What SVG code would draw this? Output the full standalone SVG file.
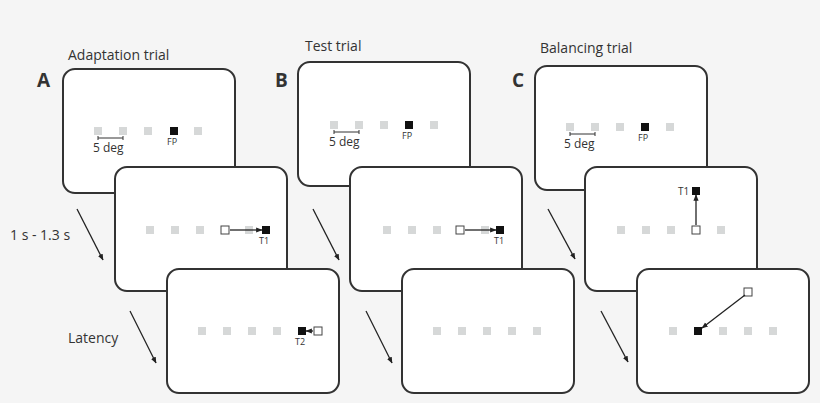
<svg xmlns="http://www.w3.org/2000/svg" width="820" height="403" viewBox="0 0 820 403">
<defs>
<marker id="ah" viewBox="0 0 10 10" refX="9" refY="5" markerWidth="5" markerHeight="5" orient="auto"><path d="M0,1 L10,5 L0,9 z" fill="#222"/></marker>
<style>
.card{fill:#fff;stroke:#333;stroke-width:2}
.g{fill:#d6d8d8}
.b{fill:#111}
.o{fill:#fff;stroke:#444;stroke-width:1}
.t{font-family:"Open Sans","Liberation Sans",sans-serif;fill:#333}
.ln{stroke:#222;stroke-width:1.3;fill:none}
</style>
</defs>
<rect width="820" height="403" fill="#f5f5f5"/>
<g class="t" font-size="14">
<text x="68" y="60">Adaptation trial</text>
<text x="305" y="51">Test trial</text>
<text x="540" y="53">Balancing trial</text>
<text x="10" y="240">1 s - 1.3 s</text>
<text x="68" y="343">Latency</text>
</g>
<g class="t" font-size="19" font-weight="bold" font-family="Liberation Sans,sans-serif">
<text x="37" y="87">A</text><text x="275" y="87">B</text><text x="512" y="87">C</text>
</g>
<g id="connectors">
<line class="ln" x1="77" y1="209" x2="103" y2="260" marker-end="url(#ah)"/>
<line class="ln" x1="130" y1="311" x2="156" y2="363" marker-end="url(#ah)"/>
<line class="ln" x1="313" y1="209" x2="339" y2="260" marker-end="url(#ah)"/>
<line class="ln" x1="366" y1="311" x2="392" y2="363" marker-end="url(#ah)"/>
<line class="ln" x1="548" y1="209" x2="575" y2="259" marker-end="url(#ah)"/>
<line class="ln" x1="601" y1="311" x2="628" y2="362" marker-end="url(#ah)"/>
</g>
<g id="A1"><rect class="card" x="63" y="69" width="172" height="124" rx="12"/>
<rect class="g" x="94" y="127" width="8" height="8"/><rect class="g" x="119" y="127" width="8" height="8"/><rect class="g" x="144" y="127" width="8" height="8"/><rect class="b" x="170" y="127" width="8" height="8"/><rect class="g" x="194" y="127" width="8" height="8"/>
<path d="M98,138 H123 M98,136 V140 M123,136 V140" stroke="#333" stroke-width="1"/>
<text class="t" x="93" y="152" font-size="12">5 deg</text><text class="t" x="167" y="145" font-size="9">FP</text></g>
<g id="A2"><rect class="card" x="115" y="167" width="172" height="124" rx="12"/>
<rect class="g" x="146" y="226" width="8" height="8"/><rect class="g" x="171" y="226" width="8" height="8"/><rect class="g" x="196" y="226" width="8" height="8"/><rect class="g" x="245" y="226" width="8" height="8"/>
<rect class="o" x="221" y="226" width="8" height="8"/><rect class="b" x="262" y="226" width="8" height="8"/>
<line class="ln" x1="230" y1="230" x2="262" y2="230" marker-end="url(#ah)"/>
<text class="t" x="259" y="244" font-size="9">T1</text></g>
<g id="A3"><rect class="card" x="167" y="269" width="172" height="124" rx="12"/>
<rect class="g" x="198" y="327" width="8" height="8"/><rect class="g" x="223" y="327" width="8" height="8"/><rect class="g" x="248" y="327" width="8" height="8"/><rect class="g" x="273" y="327" width="8" height="8"/>
<rect class="b" x="298" y="327" width="8" height="8"/><rect class="o" x="314" y="327" width="8" height="8"/>
<line class="ln" x1="313" y1="331" x2="306" y2="331" marker-end="url(#ah)"/>
<text class="t" x="295" y="345" font-size="9">T2</text></g>
<g id="B1"><rect class="card" x="298" y="62" width="172" height="124" rx="12"/>
<rect class="g" x="330" y="121" width="8" height="8"/><rect class="g" x="355" y="121" width="8" height="8"/><rect class="g" x="380" y="121" width="8" height="8"/><rect class="b" x="405" y="121" width="8" height="8"/><rect class="g" x="430" y="121" width="8" height="8"/>
<path d="M334,132 H359 M334,130 V134 M359,130 V134" stroke="#333" stroke-width="1"/>
<text class="t" x="329" y="146" font-size="12">5 deg</text><text class="t" x="402" y="139" font-size="9">FP</text></g>
<g id="B2"><rect class="card" x="350" y="167" width="172" height="124" rx="12"/>
<rect class="g" x="383" y="226" width="8" height="8"/><rect class="g" x="408" y="226" width="8" height="8"/><rect class="g" x="433" y="226" width="8" height="8"/><rect class="g" x="481" y="226" width="8" height="8"/>
<rect class="o" x="456" y="226" width="8" height="8"/><rect class="b" x="496" y="226" width="8" height="8"/>
<line class="ln" x1="465" y1="230" x2="496" y2="230" marker-end="url(#ah)"/>
<text class="t" x="494" y="244" font-size="9">T1</text></g>
<g id="B3"><rect class="card" x="402" y="269" width="172" height="124" rx="12"/>
<rect class="g" x="433" y="327" width="8" height="8"/><rect class="g" x="458" y="327" width="8" height="8"/><rect class="g" x="483" y="327" width="8" height="8"/><rect class="g" x="508" y="327" width="8" height="8"/><rect class="g" x="533" y="327" width="8" height="8"/></g>
<g id="C1"><rect class="card" x="535" y="66" width="172" height="124" rx="12"/>
<rect class="g" x="566" y="123" width="8" height="8"/><rect class="g" x="591" y="123" width="8" height="8"/><rect class="g" x="616" y="123" width="8" height="8"/><rect class="b" x="641" y="123" width="8" height="8"/><rect class="g" x="666" y="123" width="8" height="8"/>
<path d="M570,134 H595 M570,132 V136 M595,132 V136" stroke="#333" stroke-width="1"/>
<text class="t" x="564" y="148" font-size="12">5 deg</text><text class="t" x="638" y="141" font-size="9">FP</text></g>
<g id="C2"><rect class="card" x="585" y="167" width="172" height="124" rx="12"/>
<rect class="g" x="617" y="226" width="8" height="8"/><rect class="g" x="642" y="226" width="8" height="8"/><rect class="g" x="667" y="226" width="8" height="8"/><rect class="g" x="717" y="226" width="8" height="8"/>
<rect class="o" x="692" y="226" width="8" height="8"/><rect class="b" x="692" y="187" width="8" height="8"/>
<line class="ln" x1="696" y1="225" x2="696" y2="195" marker-end="url(#ah)"/>
<text class="t" x="678" y="195" font-size="10">T1</text></g>
<g id="C3"><rect class="card" x="637" y="269" width="172" height="124" rx="12"/>
<rect class="g" x="669" y="327" width="8" height="8"/><rect class="b" x="694" y="327" width="8" height="8"/><rect class="g" x="719" y="327" width="8" height="8"/><rect class="g" x="744" y="327" width="8" height="8"/><rect class="g" x="769" y="327" width="8" height="8"/>
<rect class="o" x="744" y="288" width="8" height="8"/>
<line class="ln" x1="745" y1="295" x2="702" y2="328" marker-end="url(#ah)"/></g>
</svg>
